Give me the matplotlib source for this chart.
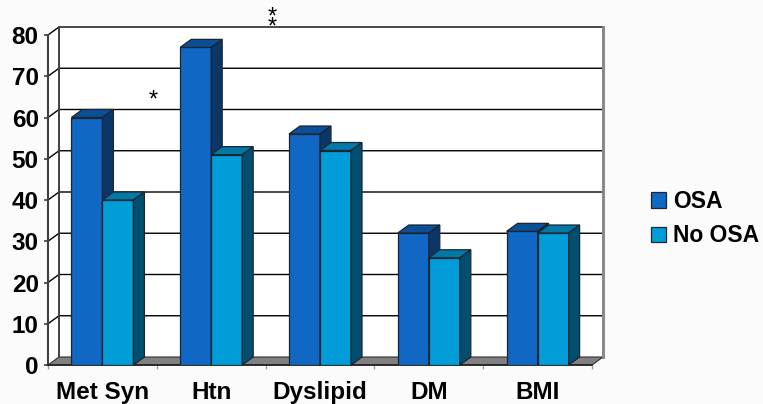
import matplotlib
matplotlib.use("Agg")
import matplotlib.pyplot as plt
from matplotlib.patches import Polygon, Patch

categories = ["Met Syn", "Htn", "Dyslipid", "DM", "BMI"]
osa = [60, 77, 56, 32, 32.4]
no_osa = [40, 51, 52, 26, 32]
series_names = ["OSA", "No OSA"]
y_ticks = [0, 10, 20, 30, 40, 50, 60, 70, 80]

plt.rcParams["font.family"] = ["Liberation Sans", "DejaVu Sans"]

W, H = 763, 404
BG = "#fbfbfb"
FS = 17.5
fig = plt.figure(figsize=(W / 100, H / 100), dpi=100, facecolor=BG)
ax = fig.add_axes([48 / W, (H - 365) / H, (592 - 48) / W, (365 - 35) / H])
n = len(categories)
x0, x1 = -0.5, n - 0.5
ymax = y_ticks[-1]
ax.set_xlim(x0, x1)
ax.set_ylim(0, ymax)
ax.patch.set_visible(False)

# depth of the pseudo-3D box, given in pixels and converted to data units
bbox = ax.get_window_extent()
px_x = bbox.width / (x1 - x0)
px_y = bbox.height / ymax
DX = 11 / px_x
DY = 8 / px_y

# walls and floor
ax.add_patch(Polygon([(x0, 0), (x0, ymax), (x0 + DX, ymax + DY), (x0 + DX, DY)],
                     closed=True, fc="white", ec="none", zorder=0, clip_on=False))
ax.add_patch(Polygon([(x0 + DX, DY), (x0 + DX, ymax + DY), (x1 + DX, ymax + DY), (x1 + DX, DY)],
                     closed=True, fc="white", ec="none", zorder=0, clip_on=False))
ax.add_patch(Polygon([(x0, 0), (x1, 0), (x1 + DX, DY), (x0 + DX, DY)],
                     closed=True, fc="#808080", ec="#303030", lw=0.8, zorder=1, clip_on=False))

# gridlines running across the side wall and back wall
for v in y_ticks[1:]:
    ax.plot([x0, x0 + DX, x1 + DX], [v, v + DY, v + DY], color="black", lw=1.0,
            zorder=1, clip_on=False, solid_capstyle="butt")
ax.plot([x0 + DX, x0 + DX], [DY, ymax + DY], color="#404040", lw=1.4, zorder=1, clip_on=False)
ax.plot([x1 + DX, x1 + DX], [DY, ymax + DY], color="#8a8a8a", lw=2.2, zorder=1, clip_on=False)

# bars: front face through ax.bar, then top and side faces
w = 0.285
edge = "#1c2633"
styles = [
    dict(front="#1067c4", top="#0b4f96", side="#0a3768"),
    dict(front="#019dd8", top="#0278a7", side="#004f6f"),
]
for k, (vals, st) in enumerate(zip([osa, no_osa], styles)):
    z = 3 + k
    lefts = [i - w + k * w for i in range(n)]
    ax.bar(lefts, vals, width=w, align="edge", color=st["front"], edgecolor=edge,
           linewidth=0.9, zorder=z, label=series_names[k])
    for xl, v in zip(lefts, vals):
        xr = xl + w
        ax.add_patch(Polygon([(xl, v), (xr, v), (xr + DX, v + DY), (xl + DX, v + DY)],
                             closed=True, fc=st["top"], ec=edge, lw=0.9, zorder=z, clip_on=False))
        ax.add_patch(Polygon([(xr, 0), (xr, v), (xr + DX, v + DY), (xr + DX, DY)],
                             closed=True, fc=st["side"], ec=edge, lw=0.9, zorder=z, clip_on=False))

# significance marks
sig_kw = dict(ha="center", va="center", fontsize=17, color="black", clip_on=False, zorder=6)
ax.text(0.465, 64.0, "*", **sig_kw)
ax.text(1.56, 83.0, "*\n*", linespacing=0.34, **sig_kw)

# axes decoration
for s in ["top", "right"]:
    ax.spines[s].set_visible(False)
ax.spines["left"].set_color("#404040")
ax.spines["left"].set_linewidth(1.5)
ax.spines["left"].set_zorder(2)
ax.spines["bottom"].set_color("#202020")
ax.spines["bottom"].set_linewidth(1.2)
ax.spines["bottom"].set_zorder(2)

ax.set_yticks(y_ticks)
ax.set_yticklabels([str(t) for t in y_ticks], fontsize=FS, fontweight="bold")
ax.tick_params(axis="y", length=3.2, width=1.2, color="#404040", pad=3.5)

ax.set_xticks(range(n))
ax.set_xticklabels(categories, fontsize=FS, fontweight="bold")
ax.set_xticks([i - 0.5 for i in range(n + 1)], minor=True)
ax.tick_params(axis="x", which="major", length=0, pad=11.5)
ax.tick_params(axis="x", which="minor", length=3, width=1, color="#a0a0a0")

handles = [Patch(fc=st["front"], ec=edge, lw=0.9) for st in styles]
fig.legend(handles, series_names, loc="upper left", bbox_to_anchor=(651 / W, 1 - 190 / H),
           frameon=False, prop=dict(size=16.5, weight="bold"), handlelength=0.66,
           handleheight=0.66, handletextpad=0.3, labelspacing=0.5, borderaxespad=0,
           borderpad=0)

fig.savefig("out.png", dpi=100, facecolor=BG)
